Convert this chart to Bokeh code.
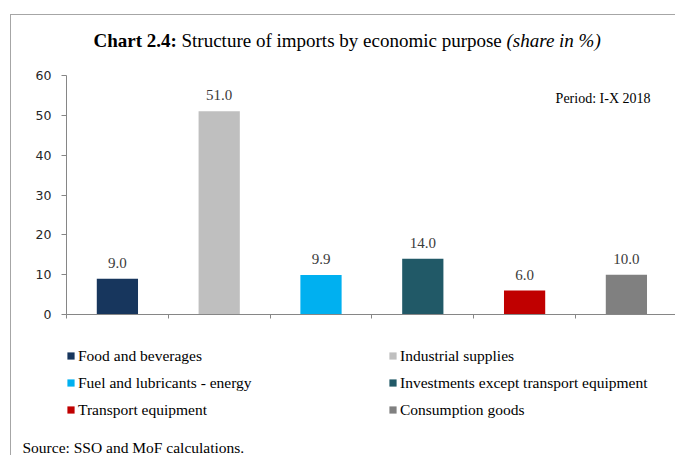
from bokeh.plotting import figure
from bokeh.layouts import column
from bokeh.models import Range1d, Label, Legend, LegendItem, FixedTicker, ColumnDataSource, Title
from bokeh.embed import file_html
from bokeh.resources import INLINE
from bokeh.core.properties import value
import numpy as np

categories = ["Food and beverages", "Industrial supplies", "Fuel and lubricants - energy",
              "Investments except transport equipment", "Transport equipment", "Consumption goods"]
shares = [9.0, 51.0, 9.9, 14.0, 6.0, 10.0]
share_labels = ["9.0", "51.0", "9.9", "14.0", "6.0", "10.0"]
colors = ["#17365d", "#bfbfbf", "#00b0f0", "#215967", "#c00000", "#808080"]
y_ticks = [0, 10, 20, 30, 40, 50, 60]

SERIF = "Liberation Serif"
W = 664
BAR_W = 0.405
px_per_cat = 101.8


def blank(height, top=0):
    f = figure(width=W, height=height, output_backend="svg", toolbar_location=None,
               min_border=0, min_border_top=top, x_axis_type=None, y_axis_type=None,
               x_range=Range1d(0, 1), y_range=Range1d(0, 1))
    f.outline_line_color = None
    f.xgrid.grid_line_color = None
    f.ygrid.grid_line_color = None
    return f


# ---------- title strip (its frame is aligned with the chart frame) ----------
t = blank(50)
ty = 25
t.add_layout(Label(x=27, y=ty, x_units="screen", y_units="screen", text="Chart 2.4: ",
                   text_font=SERIF, text_font_size="19px", text_font_style="bold",
                   text_baseline="middle", text_color="#000000"))
t.add_layout(Label(x=115, y=ty, x_units="screen", y_units="screen",
                   text="Structure of imports by economic purpose ",
                   text_font=SERIF, text_font_size="19px", text_baseline="middle", text_color="#000000"))
t.add_layout(Label(x=440, y=ty, x_units="screen", y_units="screen", text="(share in %)",
                   text_font=SERIF, text_font_size="19px", text_font_style="italic",
                   text_baseline="middle", text_color="#000000"))

# ---------- chart ----------
BL, BT, BB = 55, 10, 8
FW, FH = W - BL, 239
p = figure(width=W, height=BT + FH + BB, output_backend="svg", toolbar_location=None,
           min_border_left=BL, min_border_top=BT, min_border_bottom=BB, min_border_right=0,
           x_range=Range1d(0, FW / px_per_cat), y_range=Range1d(0, 60))
p.outline_line_color = None
p.xgrid.grid_line_color = None
p.ygrid.grid_line_color = None

xpos = np.arange(len(categories)) + 0.5
src = ColumnDataSource(dict(x=xpos, top=shares, lab=share_labels))
for i, c in enumerate(categories):
    p.vbar(x=[xpos[i]], top=[shares[i]], width=BAR_W, bottom=0, fill_color=colors[i], line_color=None)

p.text(x="x", y="top", text="lab", source=src, text_align="center", text_baseline="middle",
       y_offset=-16, text_font=value(SERIF), text_font_size="15px", text_color="#3a3a3a")

p.yaxis.ticker = FixedTicker(ticks=y_ticks)
p.yaxis.major_label_text_font = "DejaVu Sans"
p.yaxis.major_label_text_font_size = "12.5px"
p.yaxis.major_label_text_color = "#262626"
p.yaxis.axis_line_color = "#868686"
p.yaxis.major_tick_line_color = "#868686"
p.yaxis.major_tick_out = 5
p.yaxis.major_tick_in = 0
p.yaxis.minor_tick_line_color = None
p.yaxis.major_label_standoff = 10

p.xaxis.ticker = FixedTicker(ticks=list(range(0, len(categories) + 1)))
p.xaxis.major_label_text_font_size = "1px"
p.xaxis.major_label_text_alpha = 0
p.xaxis.major_label_standoff = 0
p.xaxis.axis_line_color = "#868686"
p.xaxis.major_tick_line_color = "#868686"
p.xaxis.major_tick_out = 4
p.xaxis.major_tick_in = 0
p.xaxis.minor_tick_line_color = None

p.add_layout(Label(x=584, y=216, x_units="screen", y_units="screen", text="Period: I-X 2018",
                   text_font=SERIF, text_font_size="14px", text_align="right",
                   text_baseline="middle", text_color="#000000"))

# ---------- legend + source strip ----------
lg = blank(133, top=20)
proxies = []
for i in range(len(categories)):
    r = lg.vbar(x=[xpos[i]], top=[shares[i]], width=1, bottom=0, fill_color=colors[i], line_color=None)
    r.visible = False          # only used for the legend swatch
    proxies.append(r)
legend_order = [0, 2, 4, 1, 3, 5]   # row-major reading -> column-major grid
legend = Legend(items=[LegendItem(label=categories[i], renderers=[proxies[i]]) for i in legend_order],
                ncols=2, location="top_left", glyph_width=9, glyph_height=9, label_standoff=3,
                label_width=310, label_height=27, spacing=0, padding=0, margin=0,
                border_line_color=None, background_fill_alpha=0, click_policy="none",
                label_text_font=SERIF, label_text_font_size="15.5px", label_text_color="#000000")
lg.add_layout(legend, "center")
lg.add_layout(Title(text="Source: SSO and MoF calculations.", align="left", offset=-44, standoff=0,
                    text_font=SERIF, text_font_size="15.5px", text_font_style="normal",
                    text_color="#000000"), "below")

layout = column(t, p, lg, spacing=0)
layout.styles = {"margin-top": "14px", "margin-left": "10px",
                 "border-top": "1px solid #a6a6a6", "border-left": "1px solid #a6a6a6"}

open("out.html", "w").write(file_html(layout, INLINE))
